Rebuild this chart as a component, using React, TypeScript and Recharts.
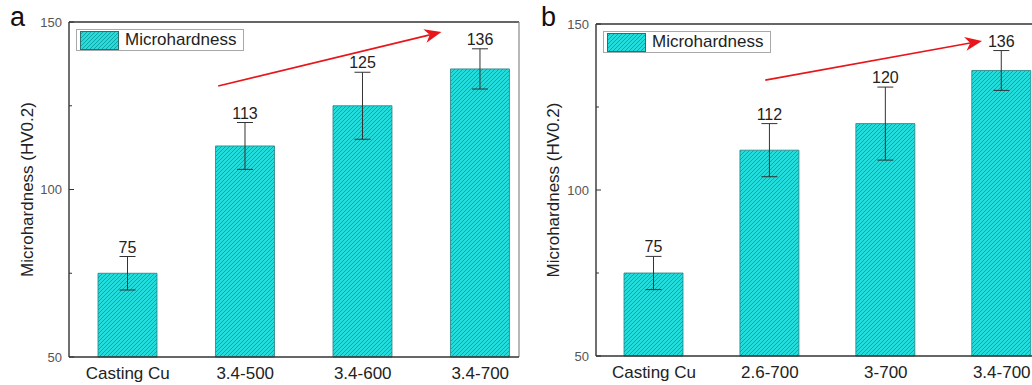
import React from 'react';
import {
  BarChart,
  Bar,
  XAxis,
  YAxis,
  ErrorBar,
  LabelList,
  Legend,
  ReferenceLine,
} from 'recharts';

const catsA = ['Casting Cu', '3.4-500', '3.4-600', '3.4-700'];
const valsA = [75, 113, 125, 136];
const errA = [5, 7, 10, 6];

const catsB = ['Casting Cu', '2.6-700', '3-700', '3.4-700'];
const valsB = [75, 112, 120, 136];
const errB = [5, 8, 11, 6];

const yTicks = [50, 75, 100, 125, 150];
const xDomain: [number, number] = [-0.5, 3.33];

// trend arrows, in data coordinates [x, y]
const arrowA = [[0.77, 130.9], [2.67, 147]];
const arrowB = [[0.96, 133.1], [2.83, 144.9]];

const FONT = '"Liberation Sans", Arial, sans-serif';
const AXIS = '#333';

type Panel = {
  letter: string;
  cats: string[];
  vals: number[];
  errs: number[];
  arrow: number[][];
  left: number;
  top: number;
  axisWidth: number;
  xHeight: number;
  titleX: number;
};

const panels: Panel[] = [
  { letter: 'a', cats: catsA, vals: valsA, errs: errA, arrow: arrowA, left: 0, top: 22, axisWidth: 69, xHeight: 28, titleX: 27 },
  { letter: 'b', cats: catsB, vals: valsB, errs: errB, arrow: arrowB, left: 520, top: 24, axisWidth: 76, xHeight: 29, titleX: 33 },
];

const YTick = (props: any) => {
  const { x, y, payload } = props;
  const major = payload.value % 50 === 0;
  return (
    <g>
      <line x1={x} x2={x + (major ? 5 : 3)} y1={y} y2={y} stroke={AXIS} strokeWidth={1} />
      {major && (
        <text x={x - 7} y={y + 4.5} textAnchor="end" fontSize={13} fill="#555" fontFamily={FONT}>
          {payload.value}
        </text>
      )}
    </g>
  );
};

const makeXTick = (cats: string[]) => (props: any) => {
  const { x, y, payload } = props;
  return (
    <text x={x} y={y + 22} textAnchor="middle" fontSize={17} fill="#222" fontFamily={FONT}>
      {cats[payload.value]}
    </text>
  );
};

const makeValueLabel = (errs: number[]) => (props: any) => {
  const { x, y, width, height, value, index } = props;
  const pxPerUnit = height / (value - 50);
  const top = y - errs[index] * pxPerUnit;
  return (
    <text x={x + width / 2} y={top - 4} textAnchor="middle" fontSize={16} fill="#222" fontFamily={FONT}>
      {value}
    </text>
  );
};

const Arrow = (props: any) => {
  const { x1, y1, x2, y2 } = props;
  const ang = Math.atan2(y2 - y1, x2 - x1);
  const c = Math.cos(ang);
  const s = Math.sin(ang);
  const len = 17;
  const half = 7;
  const notch = 12;
  const bx = x2 - c * len;
  const by = y2 - s * len;
  const nx = x2 - c * notch;
  const ny = y2 - s * notch;
  const pts = [
    [x2, y2],
    [bx - s * half, by + c * half],
    [nx, ny],
    [bx + s * half, by - c * half],
  ]
    .map((p) => p.join(','))
    .join(' ');
  return (
    <g>
      <line x1={x1} y1={y1} x2={nx} y2={ny} stroke="#e8161b" strokeWidth={1.6} />
      <polygon points={pts} fill="#e8161b" />
    </g>
  );
};

const LegendBox = (props: any) => {
  const item = props.payload?.[0];
  return (
    <div
      style={{
        boxSizing: 'border-box',
        border: '1px solid #a8a8a8',
        background: '#fff',
        height: 22,
        display: 'flex',
        alignItems: 'center',
        padding: '0 6px 0 3px',
        fontFamily: FONT,
        fontSize: 17,
        color: '#222',
        whiteSpace: 'nowrap',
      }}
    >
      <svg width={39} height={19} style={{ marginRight: 6 }}>
        <rect x={0.5} y={0.5} width={38} height={18} fill="url(#hatch)" stroke="#2c6f6f" strokeWidth={1} />
      </svg>
      {item?.value}
    </div>
  );
};

const PanelChart = ({ p }: { p: Panel }) => {
  const data = p.cats.map((c, i) => ({ idx: i, name: c, value: p.vals[i], err: p.errs[i] }));
  return (
    <div style={{ position: 'absolute', left: p.left, top: 0, width: 520, height: 385 }}>
      <div
        style={{
          position: 'absolute',
          left: p.letter === 'a' ? 10 : 21,
          top: 0,
          fontFamily: FONT,
          fontSize: 27,
          color: '#111',
          lineHeight: '34px',
        }}
      >
        {p.letter}
      </div>
      <BarChart
        width={520}
        height={385}
        data={data}
        margin={{ top: p.top, right: p.letter === 'a' ? 1 : 0, left: 0, bottom: 0 }}
      >
        <XAxis
          type="number"
          dataKey="idx"
          domain={xDomain}
          ticks={[0, 1, 2, 3]}
          allowDataOverflow
          height={p.xHeight}
          tickSize={0}
          tickMargin={0}
          tickLine={false}
          axisLine={{ stroke: AXIS, strokeWidth: 1.4 }}
          tick={makeXTick(p.cats)}
        />
        <YAxis
          type="number"
          domain={[50, 150]}
          ticks={yTicks}
          width={p.axisWidth}
          tickSize={0}
          tickMargin={0}
          tickLine={false}
          axisLine={{ stroke: AXIS, strokeWidth: 1.4 }}
          tick={<YTick />}
          label={(lp: any) => {
            const vb = lp.viewBox;
            const cx = p.titleX;
            const cy = vb.y + vb.height / 2;
            return (
              <text
                x={cx}
                y={cy}
                transform={`rotate(-90, ${cx}, ${cy})`}
                textAnchor="middle"
                dominantBaseline="central"
                fontSize={17}
                fill="#222"
                fontFamily={FONT}
              >
                Microhardness (HV0.2)
              </text>
            );
          }}
        />
        <ReferenceLine y={150} stroke={AXIS} strokeWidth={1.4} />
        <ReferenceLine x={xDomain[1]} stroke="#888" strokeWidth={1.2} />
        <ReferenceLine
          segment={[
            { x: p.arrow[0][0], y: p.arrow[0][1] },
            { x: p.arrow[1][0], y: p.arrow[1][1] },
          ]}
          shape={Arrow}
        />
        <Legend
          layout="vertical"
          align="center"
          verticalAlign="middle"
          content={<LegendBox />}
          wrapperStyle={{
            position: 'absolute',
            left: p.letter === 'a' ? 76 : 83,
            top: p.letter === 'a' ? 29 : 31,
            width: 'auto',
          }}
        />
        <Bar
          dataKey="value"
          name="Microhardness"
          barSize={59}
          fill="url(#hatch)"
          stroke="#2c7f7f"
          strokeWidth={0.8}
          isAnimationActive={false}
        >
          <ErrorBar dataKey="err" width={8} stroke="#333" strokeWidth={1} direction="y" />
          <LabelList dataKey="value" content={makeValueLabel(p.errs)} />
        </Bar>
      </BarChart>
    </div>
  );
};

export default function App() {
  return (
    <div
      style={{
        position: 'absolute',
        left: 0,
        top: 0,
        width: 1032,
        height: 385,
        overflow: 'hidden',
        background: '#fff',
      }}
    >
      <svg width={0} height={0} style={{ position: 'absolute' }}>
        <defs>
          <pattern id="hatch" patternUnits="userSpaceOnUse" width={4} height={4}>
            <rect width={4} height={4} fill="#22dddb" />
            <path d="M-1,1 l2,-2 M0,4 l4,-4 M3,5 l2,-2" stroke="#139c9c" strokeWidth={0.9} />
          </pattern>
        </defs>
      </svg>
      {panels.map((p) => (
        <PanelChart key={p.letter} p={p} />
      ))}
    </div>
  );
}
